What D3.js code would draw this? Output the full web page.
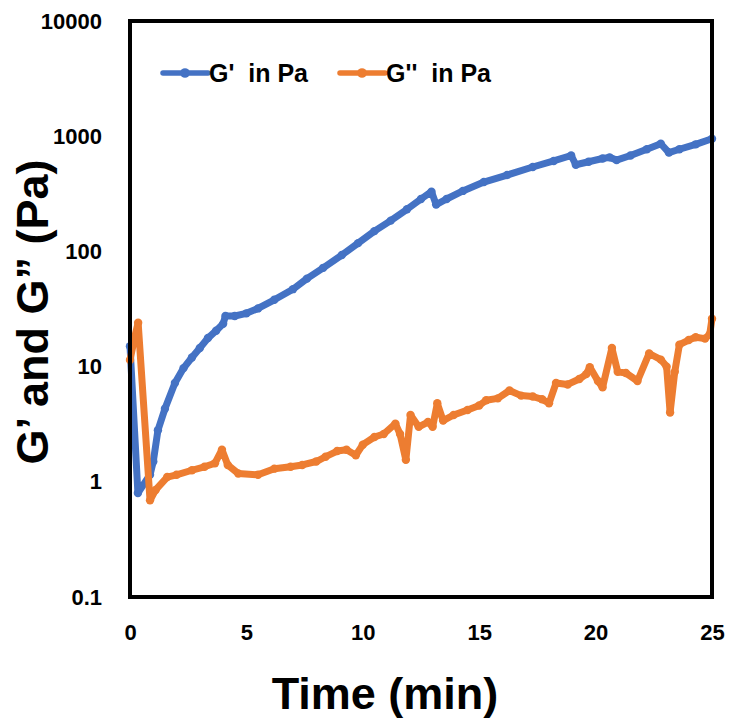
<!DOCTYPE html>
<html>
<head>
<meta charset="utf-8">
<script src="https://cdn.jsdelivr.net/npm/d3@7/dist/d3.min.js"></script>
<style>
  body { margin: 0; background: #fff; }
  svg { display: block; font-family: "Liberation Sans", Arial, sans-serif; font-weight: bold; }
  .legend text { white-space: pre; }
</style>
</head>
<body>
<div id="chart"></div>
<script>
// values
const storageTime = [0, 0.34, 0.86, 1.0, 1.2, 1.5, 1.93, 2.3, 2.66, 3.0, 3.35, 3.7, 4.0, 4.1, 4.5, 5.0, 5.5, 6.2, 7.0, 7.6, 8.3, 9.1, 9.8, 10.5, 11.2, 11.9, 12.5, 12.95, 13.15, 13.6, 14.3, 15.2, 16.2, 17.3, 18.2, 18.95, 19.15, 19.7, 20.3, 20.6, 20.9, 21.5, 22.2, 22.8, 23.15, 23.6, 24.3, 25];
const storageModulus = [15, 0.8, 1.15, 1.5, 2.8, 4.3, 7.2, 9.7, 12, 14.5, 17.7, 20.5, 23.5, 27.5, 27.5, 29, 32, 38, 47, 58, 72, 93, 118, 150, 185, 232, 285, 330, 255, 285, 335, 400, 460, 540, 610, 680, 565, 600, 640, 655, 620, 680, 770, 860, 720, 770, 850, 950];

const lossTime = [0, 0.2, 0.35, 0.86, 1.1, 1.6, 2.0, 2.66, 3.2, 3.65, 3.95, 4.2, 4.65, 5.5, 6.2, 6.9, 7.4, 8.0, 8.4, 8.9, 9.3, 9.7, 10.0, 10.5, 10.9, 11.4, 11.6, 11.85, 12.05, 12.4, 12.8, 13.0, 13.2, 13.45, 13.9, 14.5, 15.0, 15.3, 15.8, 16.3, 16.8, 17.3, 17.7, 18.0, 18.3, 18.8, 19.3, 19.6, 19.75, 20.1, 20.3, 20.7, 20.95, 21.3, 21.8, 22.3, 22.8, 23.05, 23.2, 23.4, 23.6, 24.0, 24.3, 24.7, 24.9, 25];
const lossModulus = [11.4, 18, 24, 0.69, 0.85, 1.1, 1.15, 1.26, 1.35, 1.45, 1.9, 1.4, 1.18, 1.15, 1.3, 1.35, 1.4, 1.5, 1.65, 1.85, 1.9, 1.7, 2.1, 2.45, 2.6, 3.2, 2.6, 1.55, 3.8, 3.0, 3.3, 3.0, 4.8, 3.4, 3.8, 4.2, 4.6, 5.1, 5.3, 6.2, 5.6, 5.5, 5.2, 4.8, 7.2, 7.0, 7.8, 8.6, 9.9, 7.5, 6.6, 14.5, 9.0, 8.8, 7.5, 13, 11.5, 10, 4.0, 9, 15.5, 17, 18, 17.5, 19, 26];

const xTicks = [0, 5, 10, 15, 20, 25];
const yTicks = [0.1, 1, 10, 100, 1000, 10000];
const yTickLabels = ["0.1", "1", "10", "100", "1000", "10000"];

const seriesNames = ["G'  in Pa", "G''  in Pa"];
const seriesColors = ["#4472C4", "#ED7D31"];

const width = 729;
const height = 728;
const margin = {top: 21, right: 17, bottom: 131, left: 130};

const svg = d3.select("#chart").append("svg")
    .attr("width", width)
    .attr("height", height);

const x = d3.scaleLinear()
    .domain([0, 25])
    .range([margin.left, width - margin.right]);

const y = d3.scaleLog()
    .domain([0.1, 10000])
    .range([height - margin.bottom, margin.top]);

// axes without tick marks, only labels
const xAxis = svg.append("g")
    .attr("transform", "translate(0," + (height - margin.bottom) + ")")
    .call(d3.axisBottom(x).tickValues(xTicks).tickSize(0).tickPadding(27));
xAxis.select(".domain").remove();
xAxis.selectAll("text")
    .style("font-size", "22px")
    .style("font-weight", "bold")
    .style("font-family", "'Liberation Sans', Arial, sans-serif")
    .attr("fill", "#000");

const yAxis = svg.append("g")
    .attr("transform", "translate(" + margin.left + ",0)")
    .call(d3.axisLeft(y).tickValues(yTicks).tickSize(0).tickPadding(28)
        .tickFormat((d, i) => yTickLabels[i]));
yAxis.select(".domain").remove();
yAxis.selectAll("text")
    .style("font-size", "22px")
    .style("font-weight", "bold")
    .style("font-family", "'Liberation Sans', Arial, sans-serif")
    .attr("fill", "#000");

// series
const line = d3.line()
    .x(d => x(d[0]))
    .y(d => y(d[1]));

const series = [
    d3.zip(storageTime, storageModulus),
    d3.zip(lossTime, lossModulus)
];

series.forEach((data, i) => {
    svg.append("path")
        .datum(data)
        .attr("fill", "none")
        .attr("stroke", seriesColors[i])
        .attr("stroke-width", 7)
        .attr("stroke-linejoin", "round")
        .attr("stroke-linecap", "round")
        .attr("d", line);

    svg.append("g")
        .selectAll("circle")
        .data(data)
        .enter()
        .append("circle")
        .attr("cx", d => x(d[0]))
        .attr("cy", d => y(d[1]))
        .attr("r", 4.2)
        .attr("fill", seriesColors[i]);
});

// plot frame
svg.append("rect")
    .attr("x", margin.left)
    .attr("y", margin.top)
    .attr("width", width - margin.left - margin.right)
    .attr("height", height - margin.top - margin.bottom)
    .attr("fill", "none")
    .attr("stroke", "#000")
    .attr("stroke-width", 4);

// legend
const legendX = [163, 340];
const legend = svg.append("g").attr("class", "legend");
seriesNames.forEach((name, i) => {
    const g = legend.append("g").attr("transform", "translate(" + legendX[i] + ",73)");
    g.append("line")
        .attr("x1", 0).attr("x2", 45)
        .attr("stroke", seriesColors[i])
        .attr("stroke-width", 5.5)
        .attr("stroke-linecap", "round");
    g.append("circle")
        .attr("cx", 22).attr("r", 4.8)
        .attr("fill", seriesColors[i]);
    g.append("text")
        .attr("x", 46)
        .attr("y", 9)
        .style("font-size", "25px")
        .attr("fill", "#000")
        .text(name);
});

// axis titles
svg.append("text")
    .attr("x", 385)
    .attr("y", 709)
    .attr("text-anchor", "middle")
    .style("font-size", "45px")
    .text("Time (min)");

svg.append("text")
    .attr("transform", "translate(48,312) rotate(-90)")
    .attr("text-anchor", "middle")
    .style("font-size", "45px")
    .text("G\u2019 and G\u201D (Pa)");
</script>
</body>
</html>
